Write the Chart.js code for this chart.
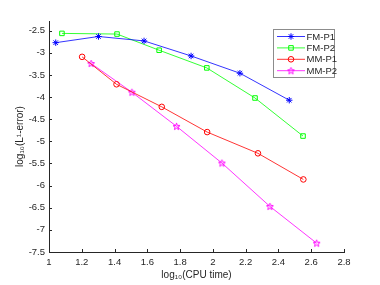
<!DOCTYPE html>
<html>
<head>
<meta charset="utf-8">
<script src="https://cdn.jsdelivr.net/npm/chart.js@4/dist/chart.umd.min.js"></script>
<style>
  html, body { margin: 0; padding: 0; background: #fff; }
  #wrap { width: 380px; height: 285px; }
</style>
</head>
<body>
<div id="wrap"><canvas id="c" width="380" height="285"></canvas></div>
<script>
// valores (log10 CPU time, log10 L1 error)
const fmP1X = [1.041, 1.302, 1.580, 1.867, 2.165, 2.466];
const fmP1Y = [-2.77, -2.63, -2.73, -3.07, -3.46, -4.07];
const fmP2X = [1.079, 1.415, 1.672, 1.963, 2.257, 2.550];
const fmP2Y = [-2.56, -2.575, -2.94, -3.34, -4.02, -4.88];
const mmP1X = [1.202, 1.412, 1.688, 1.965, 2.275, 2.552];
const mmP1Y = [-3.09, -3.71, -4.22, -4.79, -5.27, -5.86];
const mmP2X = [1.257, 1.506, 1.778, 2.055, 2.348, 2.633];
const mmP2Y = [-3.24, -3.89, -4.66, -5.49, -6.47, -7.30];

const seriesNames = ["FM-P1", "FM-P2", "MM-P1", "MM-P2"];
const xTicks = [1, 1.2, 1.4, 1.6, 1.8, 2, 2.2, 2.4, 2.6, 2.8];
const yTicks = [-7.5, -7, -6.5, -6, -5.5, -5, -4.5, -4, -3.5, -3, -2.5];

const FONT = "'Liberation Sans', Arial, sans-serif";
const AXIS = "#262626";

// pentagrama para MM-P2 (Chart.js no lo trae)
function pentagram(color) {
  const cv = document.createElement("canvas");
  cv.width = 9; cv.height = 9;
  const g = cv.getContext("2d");
  g.strokeStyle = color;
  g.lineWidth = 1;
  g.beginPath();
  for (let i = 0; i < 10; i++) {
    const r = i % 2 === 0 ? 3.6 : 1.5;
    const a = -Math.PI / 2 + i * Math.PI / 5;
    const px = 4.5 + r * Math.cos(a), py = 4.8 + r * Math.sin(a);
    if (i === 0) g.moveTo(px, py); else g.lineTo(px, py);
  }
  g.closePath();
  g.stroke();
  return cv;
}
const star5 = pentagram("#ff00ff");

const pts = (xs, ys) => xs.map((x, i) => ({ x, y: ys[i] }));

function ds(label, data, color, style, radius) {
  return {
    label, data,
    borderColor: color,
    backgroundColor: "rgba(0,0,0,0)",
    pointBorderColor: color,
    pointBackgroundColor: "rgba(0,0,0,0)",
    pointStyle: style,
    pointRadius: radius,
    pointBorderWidth: 1,
    borderWidth: 0.8,
    showLine: true,
    tension: 0,
  };
}

// ticks hacia adentro, estilo matlab
const innerTicks = {
  id: "innerTicks",
  afterDraw(chart) {
    const { ctx, chartArea, scales } = chart;
    ctx.save();
    ctx.strokeStyle = AXIS;
    ctx.lineWidth = 1;
    ctx.beginPath();
    xTicks.forEach(v => {
      const px = Math.round(scales.x.getPixelForValue(v)) + 0.5;
      ctx.moveTo(px, chartArea.bottom);
      ctx.lineTo(px, chartArea.bottom - 3);
    });
    yTicks.forEach(v => {
      const py = Math.round(scales.y.getPixelForValue(v)) + 0.5;
      ctx.moveTo(chartArea.left, py);
      ctx.lineTo(chartArea.left + 3, py);
    });
    ctx.stroke();
    ctx.restore();
  },
};

// leyenda con recuadro dentro del area
const boxLegend = {
  id: "boxLegend",
  afterDraw(chart) {
    const { ctx } = chart;
    const x0 = 273.5, y0 = 29.5, w = 61, h = 48;
    ctx.save();
    ctx.fillStyle = "#fff";
    ctx.fillRect(x0, y0, w, h);
    ctx.strokeStyle = "#8c8c8c";
    ctx.lineWidth = 1;
    ctx.strokeRect(x0, y0, w, h);
    ctx.font = "9.5px " + FONT;
    ctx.textBaseline = "middle";
    chart.data.datasets.forEach((d, i) => {
      const yy = 36.5 + i * 11.4;
      ctx.strokeStyle = d.borderColor;
      ctx.lineWidth = 0.8;
      ctx.beginPath();
      ctx.moveTo(277, yy);
      ctx.lineTo(305, yy);
      ctx.stroke();
      ctx.fillStyle = "rgba(0,0,0,0)";
      ctx.lineWidth = 1;
      Chart.helpers.drawPoint(ctx, {
        pointStyle: d.pointStyle, radius: d.pointRadius, borderWidth: 1,
      }, 291, yy);
      ctx.fillStyle = AXIS;
      ctx.fillText(d.label, 306.5, yy + 0.5);
    });
    ctx.restore();
  },
};

new Chart(document.getElementById("c").getContext("2d"), {
  type: "scatter",
  data: {
    datasets: [
      ds(seriesNames[0], pts(fmP1X, fmP1Y), "#0000ff", "star", 3.2),
      ds(seriesNames[1], pts(fmP2X, fmP2Y), "#00ff00", "rect", 3.2),
      ds(seriesNames[2], pts(mmP1X, mmP1Y), "#ff0000", "circle", 2.8),
      ds(seriesNames[3], pts(mmP2X, mmP2Y), "#ff00ff", star5, 4),
    ],
  },
  options: {
    responsive: false,
    animation: false,
    layout: { padding: { left: 0, top: 21, right: 36, bottom: 0 } },
    plugins: { legend: { display: false }, tooltip: { enabled: false } },
    scales: {
      x: {
        type: "linear", min: 1, max: 2.8,
        afterBuildTicks: s => { s.ticks = xTicks.map(v => ({ value: v })); },
        afterFit: s => { s.height = 33; },
        grid: { display: true, drawOnChartArea: false, drawTicks: false },
        border: { color: AXIS, width: 1 },
        ticks: {
          color: AXIS, font: { family: FONT, size: 9.5 }, padding: 5,
          maxRotation: 0, callback: v => String(Math.round(v * 10) / 10),
        },
        title: {
          display: true, text: "log₁₀(CPU time)", color: AXIS,
          font: { family: FONT, size: 10 }, padding: { top: 2 },
        },
      },
      y: {
        type: "linear", min: -7.5, max: -2.28,
        afterBuildTicks: s => { s.ticks = yTicks.map(v => ({ value: v })); },
        afterFit: s => { s.width = 49; },
        grid: { display: true, drawOnChartArea: false, drawTicks: false },
        border: { color: AXIS, width: 1 },
        ticks: {
          color: AXIS, font: { family: FONT, size: 9.5 }, padding: 4,
          callback: v => String(v),
        },
        title: {
          display: true, text: "log₁₀(L¹-error)", color: AXIS,
          font: { family: FONT, size: 10 }, padding: { top: 14, bottom: 0 },
        },
      },
    },
  },
  plugins: [innerTicks, boxLegend],
});
</script>
</body>
</html>
